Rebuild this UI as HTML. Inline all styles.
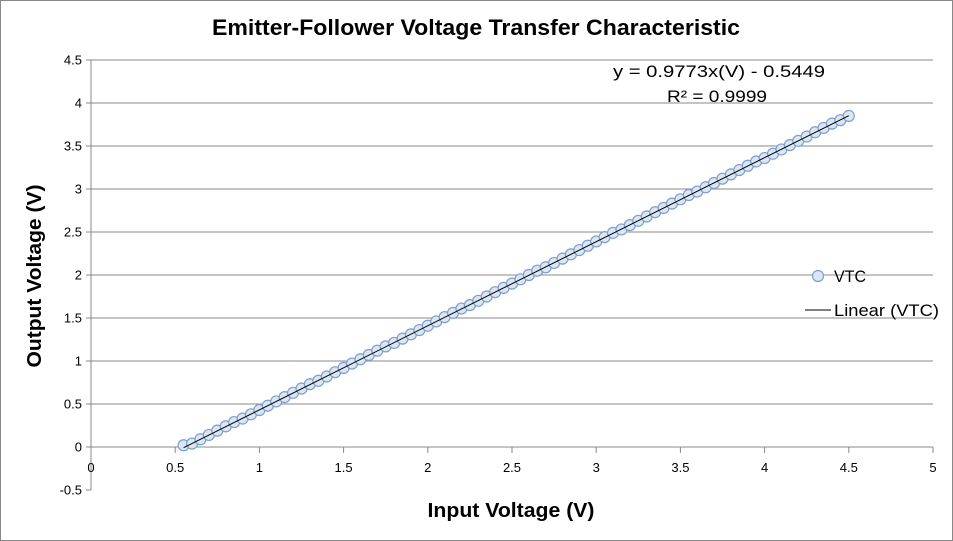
<!DOCTYPE html>
<html><head><meta charset="utf-8"><style>
html,body{margin:0;padding:0;background:#fff;}
svg{display:block;font-family:"Liberation Sans",Calibri,sans-serif;}
</style></head><body>
<svg id="chart" width="953" height="541" viewBox="0 0 953 541">
<rect x="0.5" y="0.5" width="952" height="540" fill="#fff" stroke="#888"/>
<text x="476" y="35" text-anchor="middle" font-size="22" font-weight="bold" fill="#000" textLength="528" lengthAdjust="spacingAndGlyphs">Emitter-Follower Voltage Transfer Characteristic</text>
<g id="grid"></g>
<g id="axes"></g>
<g id="ticks"></g>
<g id="series"></g>
<text x="511" y="517" text-anchor="middle" font-size="20" font-weight="bold" textLength="167" lengthAdjust="spacingAndGlyphs">Input Voltage (V)</text>
<text transform="translate(41,276) rotate(-90)" text-anchor="middle" font-size="20" font-weight="bold" textLength="183" lengthAdjust="spacingAndGlyphs">Output Voltage (V)</text>
<text x="719" y="77" text-anchor="middle" font-size="17" textLength="212" lengthAdjust="spacingAndGlyphs">y = 0.9773x(V) - 0.5449</text>
<text x="717" y="102" text-anchor="middle" font-size="17" textLength="100" lengthAdjust="spacingAndGlyphs">R² = 0.9999</text>
<g>
<circle cx="818" cy="276" r="5.5" fill="#dce6f2" stroke="#7a9fd0" stroke-width="1.2"/>
<text x="834" y="282" font-size="17" textLength="32" lengthAdjust="spacingAndGlyphs">VTC</text>
<line x1="805" y1="310" x2="831" y2="310" stroke="#000" stroke-width="1"/>
<text x="834" y="316" font-size="17" textLength="105" lengthAdjust="spacingAndGlyphs">Linear (VTC)</text>
</g>
</svg>
<script>
const xTicks=[0,0.5,1,1.5,2,2.5,3,3.5,4,4.5,5];
const xTickLabels=["0","0.5","1","1.5","2","2.5","3","3.5","4","4.5","5"];
const yTicks=[-0.5,0,0.5,1,1.5,2,2.5,3,3.5,4,4.5];
const yTickLabels=["-0.5","0","0.5","1","1.5","2","2.5","3","3.5","4","4.5"];
const inputV=[0.55,0.60,0.65,0.70,0.75,0.80,0.85,0.90,0.95,1.00,1.05,1.10,1.15,1.20,1.25,1.30,1.35,1.40,1.45,1.50,1.55,1.60,1.65,1.70,1.75,1.80,1.85,1.90,1.95,2.00,2.05,2.10,2.15,2.20,2.25,2.30,2.35,2.40,2.45,2.50,2.55,2.60,2.65,2.70,2.75,2.80,2.85,2.90,2.95,3.00,3.05,3.10,3.15,3.20,3.25,3.30,3.35,3.40,3.45,3.50,3.55,3.60,3.65,3.70,3.75,3.80,3.85,3.90,3.95,4.00,4.05,4.10,4.15,4.20,4.25,4.30,4.35,4.40,4.45,4.50];
const outputV=[0.02,0.04,0.09,0.14,0.19,0.24,0.29,0.33,0.38,0.43,0.48,0.53,0.58,0.63,0.68,0.73,0.77,0.82,0.87,0.92,0.97,1.02,1.07,1.12,1.17,1.21,1.26,1.31,1.36,1.41,1.46,1.51,1.56,1.61,1.65,1.70,1.75,1.80,1.85,1.90,1.95,2.00,2.05,2.09,2.14,2.19,2.24,2.29,2.34,2.39,2.44,2.49,2.53,2.58,2.63,2.68,2.73,2.78,2.83,2.88,2.93,2.97,3.02,3.07,3.12,3.17,3.22,3.27,3.32,3.36,3.41,3.46,3.51,3.56,3.61,3.66,3.71,3.76,3.80,3.85];
const slope=0.9773, intercept=-0.5449;

const NS="http://www.w3.org/2000/svg";
const X0=91,X1=933,Y0=490,Y1=60;
const sx=v=>X0+(v-0)/(5-0)*(X1-X0);
const sy=v=>Y0-(v+0.5)/(4.5+0.5)*(Y0-Y1);
function mk(tag,attrs,parent){const e=document.createElementNS(NS,tag);for(const k in attrs)e.setAttribute(k,attrs[k]);parent.appendChild(e);return e;}
const grid=document.getElementById('grid'),axes=document.getElementById('axes'),ticks=document.getElementById('ticks'),series=document.getElementById('series');
yTicks.forEach((t,i)=>{
  if(t!==0&&t!==-0.5){const l=mk('line',{x1:X0,x2:X1,y1:sy(t),y2:sy(t),stroke:'#888','stroke-width':1},grid);
  
  }
  const tl=mk('line',{x1:X0-5,x2:X0,y1:sy(t),y2:sy(t),stroke:'#888'},axes);
  
  
  const tx=mk('text',{x:X0-9,y:sy(t)+4.5,'text-anchor':'end','font-size':13},ticks);
  tx.textContent=yTickLabels[i];
  
  
});
const ya=mk('line',{x1:X0,x2:X0,y1:Y1,y2:Y0,stroke:'#888'},axes);


const xa=mk('line',{x1:X0,x2:X1,y1:sy(0),y2:sy(0),stroke:'#888'},axes);


xTicks.forEach((t,i)=>{
  const tl=mk('line',{x1:sx(t),x2:sx(t),y1:sy(0),y2:sy(0)+6,stroke:'#888'},axes);
  
  
  const tx=mk('text',{x:sx(t),y:sy(0)+25,'text-anchor':'middle','font-size':13},ticks);
  tx.textContent=xTickLabels[i];
  
  
});
inputV.forEach((x,i)=>{
  const c=mk('circle',{cx:sx(x),cy:sy(outputV[i]),r:5.5,fill:'#dce6f2',stroke:'#7a9fd0','stroke-width':1.2},series);
  
  
});
const xs=inputV[0],xe=inputV[inputV.length-1];
const tr=mk('line',{x1:sx(xs),y1:sy(slope*xs+intercept),x2:sx(xe),y2:sy(slope*xe+intercept),stroke:'#000','stroke-width':1},series);


</script>
</body></html>
